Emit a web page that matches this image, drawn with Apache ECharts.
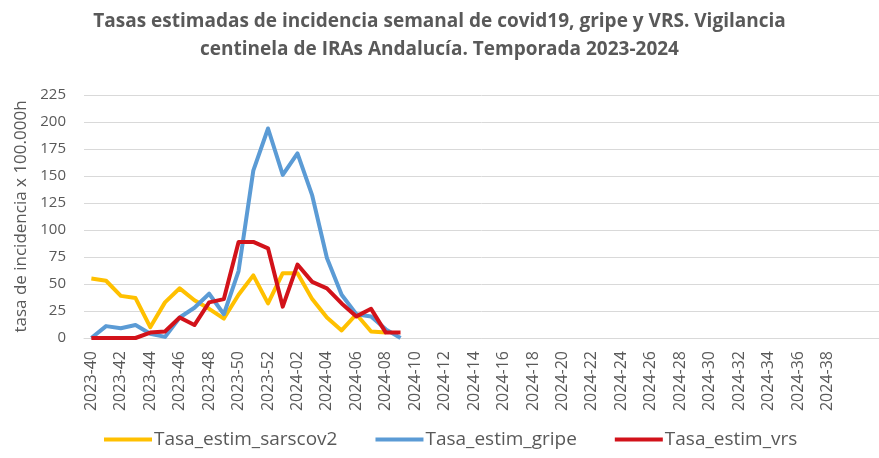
<!DOCTYPE html>
<html>
<head>
<meta charset="utf-8">
<script src="https://cdn.jsdelivr.net/npm/echarts@6/dist/echarts.min.js"></script>
<style>
  html, body { margin: 0; padding: 0; background: #fff; }
  #chart { width: 879px; height: 458px; }
</style>
</head>
<body>
<div id="chart"></div>
<script>
// weeks 2023-40 .. 2024-39
let weeks = [];
for (let w = 40; w <= 52; w++) weeks.push('2023-' + w);
for (let w = 1; w <= 39; w++) weeks.push('2024-' + (w < 10 ? '0' + w : w));

// weekly rates
let sarscov2 = [55, 53, 39, 37, 10, 33, 46, 35, 27, 18, 40, 58, 32, 60, 60, 36, 19, 7, 22, 6, 5];
let gripe = [0, 11, 9, 12, 4, 1, 19, 28, 41, 22, 62, 155, 194, 151, 171, 132, 74, 40, 22, 20, 8, 0];
let vrs = [0, 0, 0, 0, 5, 6, 19, 12, 33, 36, 89, 89, 83, 29, 68, 52, 46, 32, 20, 27, 5, 5];

let yTicks = [0, 225, 25]; // min, max, interval

let font = '"Open Sans", "Noto Sans", sans-serif';
let grey = '#595959';

let myChart = echarts.init(document.getElementById('chart'));

function line(name, data, color) {
    return {
        name: name,
        type: 'line',
        data: data,
        symbol: 'none',
        lineStyle: { color: color, width: 4, join: 'round' },
        itemStyle: { color: color },
        z: 2
    };
}

myChart.setOption({
    animation: false,
    title: {
        text: 'Tasas estimadas de incidencia semanal de covid19, gripe y VRS. Vigilancia\ncentinela de IRAs Andalucía. Temporada 2023-2024',
        left: 'center',
        top: 3,
        textStyle: {
            fontFamily: font,
            fontSize: 19,
            fontWeight: 'bold',
            color: grey,
            lineHeight: 28
        }
    },
    legend: {
        bottom: 4,
        left: 99,
        itemWidth: 48,
        itemHeight: 4,
        itemGap: 38,
        icon: 'rect',
        textStyle: { fontFamily: font, fontSize: 19, color: grey, padding: [0, 0, 0, -3] },
        data: ['Tasa_estim_sarscov2', 'Tasa_estim_gripe', 'Tasa_estim_vrs']
    },
    grid: {
        left: 84,
        right: 0,
        top: 95,
        bottom: 120
    },
    xAxis: {
        type: 'category',
        data: weeks,
        boundaryGap: true,
        max: weeks.length + 1,
        axisLine: { lineStyle: { color: '#d9d9d9', width: 1 } },
        axisTick: { show: false },
        axisLabel: {
            rotate: 90,
            margin: 13,
            fontFamily: font,
            fontSize: 16,
            color: grey,
            interval: function (index) {
                return index % 2 === 0 && index < weeks.length;
            },
            formatter: function (v) { return v == null ? '' : v; }
        },
        splitLine: { show: false }
    },
    yAxis: {
        type: 'value',
        min: yTicks[0],
        max: yTicks[1],
        interval: yTicks[2],
        name: 'tasa de incidencia x 100.000h',
        nameLocation: 'middle',
        nameRotate: 90,
        nameGap: 53,
        nameTextStyle: { fontFamily: font, fontSize: 17, color: grey },
        axisLine: { show: false },
        axisTick: { show: false },
        axisLabel: { fontFamily: font, fontSize: 15, color: grey, margin: 18 },
        splitLine: { lineStyle: { color: '#d9d9d9', width: 1 } }
    },
    series: [
        line('Tasa_estim_sarscov2', sarscov2, '#FFC000'),
        line('Tasa_estim_gripe', gripe, '#5B9BD5'),
        line('Tasa_estim_vrs', vrs, '#D2121A')
    ]
});

window.addEventListener('resize', function () {
    myChart.resize();
});
</script>
</body>
</html>
